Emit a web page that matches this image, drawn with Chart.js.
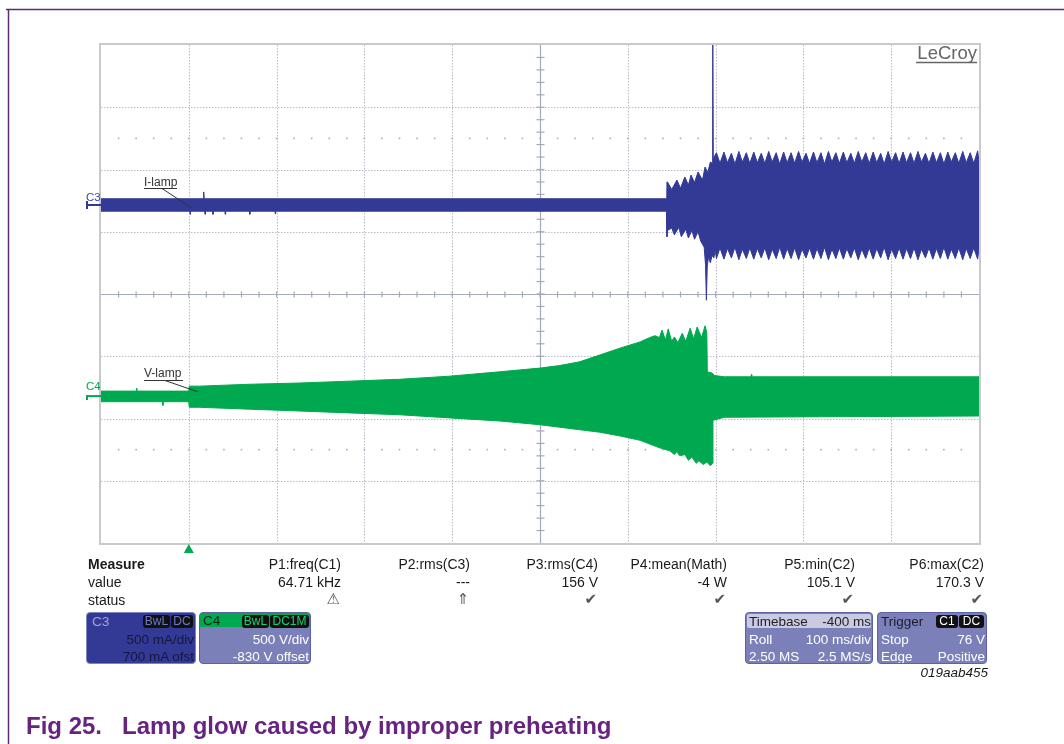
<!DOCTYPE html>
<html>
<head>
<meta charset="utf-8">
<script src="https://cdn.jsdelivr.net/npm/chart.js@4"></script>
<style>
body { margin: 0; background: #fff; width: 1064px; height: 744px; overflow: hidden; position: relative;
       font-family: "Liberation Sans", Arial, sans-serif; color: #1a1a1a; }
#scope { position: absolute; left: 0; top: 0; }
.t { position: absolute; white-space: nowrap; line-height: 1; }
.box { position: absolute; box-sizing: border-box; border-radius: 4px; overflow: hidden; }
.pill { position: absolute; top: 2px; height: 13px; background: #111; border-radius: 3px; font-size: 12px;
        line-height: 13px; text-align: center; }
.sym { font-family: "DejaVu Sans", sans-serif; color: #555; }
</style>
</head>
<body>
<canvas id="scope" width="1064" height="744"></canvas>
<div id="overlay"></div>

<script>
// ---- scope data (time in ms, trigger = 0; amplitude in divisions) ----
const gridX = [0, 100, 200, 300, 400, 500, 600, 700, 800];
const gridY = [-3, -2, -1, 0, 1, 2, 3];
const dotRowsY = [2.5, -2.5];

// C3 I-lamp envelope before the steady ripple
const ilampTopT = [-100, 16.5, 17, 17.5, 544, 544.6, 545.2, 550, 556, 560, 565, 569, 572, 576, 580, 585, 588, 591, 594, 596.3, 596.8, 597.3, 599];
const ilampTopV = [1.53, 1.53, 1.64, 1.53, 1.53, 1.80, 1.80, 1.68, 1.83, 1.70, 1.88, 1.75, 1.91, 1.79, 1.96, 1.83, 2.04, 1.95, 2.12, 2.10, 4.00, 2.15, 2.22];
const ilampBotT = [-100, 1, 1.5, 2, 18, 18.5, 19, 27, 27.5, 28, 41, 41.5, 42, 69, 69.5, 70, 98, 98.5, 99,
                   544, 544.6, 545.2, 550, 553, 558, 561, 566, 569, 573, 576, 580, 583,
                   585, 587, 588.5, 589.5, 590.5, 592, 594, 596, 598, 599.5];
const ilampBotV = [1.33, 1.33, 1.28, 1.33, 1.33, 1.28, 1.33, 1.33, 1.28, 1.33, 1.33, 1.28, 1.33, 1.33, 1.28, 1.33, 1.33, 1.29, 1.33,
                   1.33, 0.92, 1.02, 1.06, 0.95, 1.07, 0.92, 1.04, 0.90, 1.02, 0.88, 1.00, 0.85,
                   0.80, 0.75, 0.47, -0.10, 0.45, 0.60, 0.50, 0.62, 0.58, 0.70];

// C3 steady ripple after the lamp ignites (peak, valley, peak, ...)
const rippleT = [601, 605, 609.5, 613.5, 618, 622, 626.5, 630.5, 635, 639, 643.5, 647.5, 652, 656, 660.5, 664.5,
                 669, 673, 677.5, 681.5, 686, 690, 694.5, 698.5, 703, 707, 711.5, 715.5, 720, 724, 728.5, 732.5,
                 737, 741, 745.5, 749.5, 754, 758, 762.5, 766.5, 771, 775, 779.5, 783.5, 788, 792, 796.5, 800.5,
                 805, 809, 813.5, 817.5, 822, 826, 830.5, 834.5, 839, 843, 847.5, 851.5, 856, 860, 864.5, 868.5,
                 873, 877, 881.5, 885.5, 890, 894, 898.5, 900];
const rippleTop = [2.27, 2.10, 2.28, 2.11, 2.26, 2.09, 2.29, 2.12, 2.27, 2.10, 2.28, 2.11, 2.26, 2.10, 2.29, 2.12,
                   2.27, 2.09, 2.28, 2.11, 2.27, 2.10, 2.29, 2.12, 2.26, 2.10, 2.28, 2.11, 2.27, 2.09, 2.29, 2.12,
                   2.27, 2.10, 2.28, 2.11, 2.26, 2.10, 2.29, 2.12, 2.27, 2.10, 2.28, 2.11, 2.26, 2.09, 2.29, 2.12,
                   2.27, 2.10, 2.28, 2.11, 2.27, 2.10, 2.29, 2.12, 2.26, 2.10, 2.28, 2.11, 2.27, 2.09, 2.28, 2.12,
                   2.27, 2.10, 2.29, 2.11, 2.27, 2.10, 2.30, 2.12];
const rippleBot = [0.57, 0.74, 0.56, 0.73, 0.58, 0.75, 0.55, 0.72, 0.57, 0.74, 0.56, 0.73, 0.58, 0.74, 0.55, 0.72,
                   0.57, 0.75, 0.56, 0.73, 0.57, 0.74, 0.55, 0.72, 0.58, 0.74, 0.56, 0.73, 0.57, 0.75, 0.55, 0.72,
                   0.57, 0.74, 0.56, 0.73, 0.58, 0.74, 0.55, 0.72, 0.57, 0.74, 0.56, 0.73, 0.58, 0.75, 0.55, 0.72,
                   0.57, 0.74, 0.56, 0.73, 0.57, 0.74, 0.55, 0.72, 0.58, 0.74, 0.56, 0.73, 0.57, 0.75, 0.56, 0.72,
                   0.57, 0.74, 0.55, 0.73, 0.57, 0.74, 0.56, 0.73];

// C4 V-lamp envelope
const vlampTopT = [-100, -60, -59.5, -59, 0, 0.5, 12, 69, 126, 183, 240, 297, 354, 400, 422, 445, 468, 491, 514, 525, 531,
                   536, 539, 543, 546, 550, 553, 557, 562, 566, 571, 575, 579, 584, 588, 590, 590.6, 596, 599, 610, 640,
                   641, 642, 900];
const vlampTopV = [-1.56, -1.56, -1.51, -1.56, -1.56, -1.48, -1.48, -1.45, -1.43, -1.40, -1.37, -1.32, -1.25, -1.19, -1.15, -1.09,
                   -0.98, -0.87, -0.77, -0.70, -0.67, -0.70, -0.58, -0.74, -0.56, -0.76, -0.69, -0.78, -0.63, -0.76, -0.55,
                   -0.72, -0.53, -0.70, -0.51, -0.62, -1.25, -1.27, -1.31, -1.33, -1.33, -1.29, -1.33, -1.33];
const vlampBotT = [-100, -30, -29.5, -29, 0, 0.5, 12, 69, 126, 183, 240, 297, 354, 400, 445, 468, 491, 514, 536, 548,
                   553, 556, 559, 565, 569, 573, 578, 581, 586, 590, 594, 596.5, 597, 610, 900];
const vlampBotV = [-1.73, -1.73, -1.79, -1.73, -1.73, -1.82, -1.82, -1.85, -1.88, -1.91, -1.94, -1.99, -2.04, -2.10, -2.18,
                   -2.22, -2.28, -2.35, -2.47, -2.52, -2.58, -2.53, -2.60, -2.58, -2.67, -2.62, -2.72, -2.68, -2.74, -2.70,
                   -2.76, -2.72, -2.03, -1.98, -1.96];

const c3Level = 1.43;
const c4Level = -1.64;

// measure table
const measureNames = ['P1:freq(C1)', 'P2:rms(C3)', 'P3:rms(C4)', 'P4:mean(Math)', 'P5:min(C2)', 'P6:max(C2)'];
const measureValues = ['64.71 kHz', '---', '156 V', '-4 W', '105.1 V', '170.3 V'];
const measureStatus = ['\u26A0', '\u21D1', '\u2714', '\u2714', '\u2714', '\u2714'];

const BLUE = '#333a96';
const GREEN = '#00a94f';

const zip = (ts, vs) => ts.map((t, i) => ({ x: t, y: vs[i] }));

// ---- grid / decorations drawn on the chart scales ----
const scopeGrid = {
    id: 'scopeGrid',
    beforeDatasetsDraw(chart) {
        const { ctx, chartArea: a, scales: { x, y } } = chart;
        const line = (x1, y1, x2, y2) => { ctx.beginPath(); ctx.moveTo(x1, y1); ctx.lineTo(x2, y2); ctx.stroke(); };
        ctx.save();
        ctx.strokeStyle = '#b9bcc8';
        ctx.lineWidth = 1;
        ctx.setLineDash([1.5, 1.5]);
        gridX.forEach(t => {
            if (t === 400) return;
            const px = Math.round(x.getPixelForValue(t)) + 0.5;
            line(px, a.top, px, a.bottom);
        });
        gridY.forEach(v => {
            if (v === 0) return;
            const py = Math.round(y.getPixelForValue(v)) + 0.5;
            line(a.left, py, a.right, py);
        });
        ctx.setLineDash([]);

        // dotted half-division rows
        ctx.fillStyle = '#a9adbb';
        dotRowsY.forEach(v => {
            const py = y.getPixelForValue(v);
            for (let t = -80; t < 900; t += 20) {
                ctx.fillRect(x.getPixelForValue(t) - 0.8, py - 0.8, 1.6, 1.6);
            }
        });

        // centre axes with minor ticks
        ctx.strokeStyle = '#a4a9bb';
        ctx.lineWidth = 1.2;
        const x0 = Math.round(x.getPixelForValue(400)) + 0.5;
        const y0 = Math.round(y.getPixelForValue(0)) + 0.5;
        line(a.left, y0, a.right, y0);
        line(x0, a.top, x0, a.bottom);
        for (let t = -80; t < 900; t += 20) {
            const px = x.getPixelForValue(t);
            line(px, y0 - 3, px, y0 + 3);
        }
        for (let v = -3.8; v < 4; v += 0.2) {
            const py = y.getPixelForValue(v);
            line(x0 - 4, py, x0 + 4, py);
        }
        ctx.restore();
    },
    afterDraw(chart) {
        const { ctx, chartArea: a, scales: { x, y } } = chart;
        const line = (x1, y1, x2, y2) => { ctx.beginPath(); ctx.moveTo(x1, y1); ctx.lineTo(x2, y2); ctx.stroke(); };
        ctx.save();
        // screen border
        ctx.strokeStyle = '#c9c9cd';
        ctx.lineWidth = 2;
        ctx.strokeRect(a.left - 1, a.top - 1, a.right - a.left + 2, a.bottom - a.top + 2);

        // channel ground markers
        ctx.lineWidth = 2;
        ctx.strokeStyle = BLUE;
        let py = y.getPixelForValue(c3Level);
        line(86, py, a.left, py);
        line(87, py - 4, 87, py + 4);
        ctx.strokeStyle = GREEN;
        py = y.getPixelForValue(c4Level);
        line(86, py, a.left, py);
        line(87, py, 87, py + 4);

        // label pointers
        ctx.strokeStyle = '#333';
        ctx.lineWidth = 1;
        line(144, 188.5, 177, 188.5);
        line(162, 188.5, x.getPixelForValue(3.4), y.getPixelForValue(1.38));
        line(144, 380.5, 183, 380.5);
        line(165, 380.5, x.getPixelForValue(10), y.getPixelForValue(-1.57));

        // LeCroy underline
        ctx.strokeStyle = '#666';
        ctx.lineWidth = 1.5;
        line(916, 62.5, 977, 62.5);

        // trigger position marker
        const tx = x.getPixelForValue(0);
        ctx.fillStyle = GREEN;
        ctx.beginPath();
        ctx.moveTo(tx, a.bottom + 1);
        ctx.lineTo(tx + 5, a.bottom + 10);
        ctx.lineTo(tx - 5, a.bottom + 10);
        ctx.closePath();
        ctx.fill();
        ctx.restore();
    }
};

// ---- frame (outer figure border) ----
const frameLines = {
    id: 'frameLines',
    afterDraw(chart) {
        const { ctx } = chart;
        ctx.save();
        ctx.strokeStyle = '#5e2a72';
        ctx.lineWidth = 1.5;
        ctx.beginPath();
        ctx.moveTo(6, 9.5); ctx.lineTo(1064, 9.5);
        ctx.moveTo(8.5, 9); ctx.lineTo(8.5, 744);
        ctx.stroke();
        ctx.restore();
    }
};

const traceStyle = (color) => ({
    borderColor: color,
    backgroundColor: color,
    borderWidth: 1,
    pointRadius: 0,
    tension: 0
});

new Chart(document.getElementById('scope'), {
    type: 'line',
    data: {
        datasets: [
            { label: 'I-lamp top', data: zip(ilampTopT.concat(rippleT), ilampTopV.concat(rippleTop)), fill: false, ...traceStyle(BLUE) },
            { label: 'I-lamp bottom', data: zip(ilampBotT.concat(rippleT), ilampBotV.concat(rippleBot)), fill: '-1', ...traceStyle(BLUE) },
            { label: 'V-lamp top', data: zip(vlampTopT, vlampTopV), fill: false, ...traceStyle(GREEN) },
            { label: 'V-lamp bottom', data: zip(vlampBotT, vlampBotV), fill: '-1', ...traceStyle(GREEN) }
        ]
    },
    options: {
        responsive: false,
        animation: false,
        layout: { padding: { left: 101, top: 45, right: 85, bottom: 201 } },
        plugins: { legend: { display: false }, tooltip: { enabled: false } },
        scales: {
            x: { type: 'linear', min: -100, max: 900, display: false },
            y: { type: 'linear', min: -4, max: 4, display: false }
        }
    },
    plugins: [scopeGrid, frameLines]
});

// ---- text overlays ----
const ov = document.getElementById('overlay');
const text = (s, opts) => {
    const d = document.createElement('div');
    d.className = 't';
    d.textContent = s;
    Object.assign(d.style, opts);
    ov.appendChild(d);
    return d;
};

text('LeCroy', { right: '87px', top: '44px', fontSize: '18.5px', color: '#666' });
text('C3', { left: '86px', top: '192px', fontSize: '11.5px', color: '#3c46b4' });
text('C4', { left: '86px', top: '381px', fontSize: '11.5px', color: GREEN });
text('I-lamp', { left: '144px', top: '176px', fontSize: '12px', color: '#333' });
text('V-lamp', { left: '144px', top: '367px', fontSize: '12px', color: '#333' });

text('Measure', { left: '88px', top: '557px', fontSize: '14px', fontWeight: 'bold' });
text('value', { left: '88px', top: '575px', fontSize: '14px' });
text('status', { left: '88px', top: '593px', fontSize: '14px' });
const colRight = [341, 470, 598, 727, 855, 984];
measureNames.forEach((n, i) => {
    const r = (1064 - colRight[i]) + 'px';
    text(n, { right: r, top: '557px', fontSize: '14px' });
    text(measureValues[i], { right: r, top: '575px', fontSize: '14px' });
    const s = text(measureStatus[i], { right: (1064 - colRight[i] + 1) + 'px', top: '592px', fontSize: '15px' });
    s.classList.add('sym');
});

// info boxes
const box = (left, w, bg, border) => {
    const d = document.createElement('div');
    d.className = 'box';
    Object.assign(d.style, { left: left + 'px', top: '612px', width: w + 'px', height: '52px', background: bg, border: '1px solid ' + border });
    ov.appendChild(d);
    return d;
};
const inner = (parent, s, opts) => {
    const d = document.createElement('div');
    d.className = 't';
    d.textContent = s;
    Object.assign(d.style, { fontSize: '13.5px' }, opts);
    parent.appendChild(d);
    return d;
};
const pill = (parent, s, left, w, color) => {
    const d = document.createElement('div');
    d.className = 'pill';
    d.textContent = s;
    Object.assign(d.style, { left: left + 'px', width: w + 'px', color: color });
    parent.appendChild(d);
};

const c3 = box(86, 110, BLUE, '#7d84c0');
inner(c3, 'C3', { left: '5px', top: '2px', color: '#9ca2d8' });
pill(c3, 'BwL', 56, 27, '#6f78c4');
pill(c3, 'DC', 84, 22, '#6f78c4');
inner(c3, '500 mA/div', { right: '1px', top: '20px', color: '#15173e' });
inner(c3, '700 mA ofst', { right: '1px', top: '37px', color: '#15173e' });

const c4 = box(199, 112, '#7b80b9', '#5c62a4');
const strip = document.createElement('div');
Object.assign(strip.style, { position: 'absolute', left: '0', top: '0', right: '0', height: '14px', background: GREEN });
c4.appendChild(strip);
inner(c4, 'C4', { left: '3px', top: '1px', color: '#0c2414' });
pill(c4, 'BwL', 42, 27, '#18d070');
pill(c4, 'DC1M', 70, 39, '#18d070');
inner(c4, '500 V/div', { right: '1px', top: '20px', color: '#fff' });
inner(c4, '-830 V offset', { right: '1px', top: '37px', color: '#fff' });

const tb = box(745, 128, '#7b80b9', '#5c62a4');
const tstrip = document.createElement('div');
Object.assign(tstrip.style, { position: 'absolute', left: '1px', top: '1px', right: '1px', height: '14px', background: '#c9cbe3', borderRadius: '2px' });
tb.appendChild(tstrip);
inner(tb, 'Timebase', { left: '3px', top: '2px', color: '#222' });
inner(tb, '-400 ms', { right: '1px', top: '2px', color: '#222' });
inner(tb, 'Roll', { left: '3px', top: '20px', color: '#fff' });
inner(tb, '100 ms/div', { right: '1px', top: '20px', color: '#fff' });
inner(tb, '2.50 MS', { left: '3px', top: '37px', color: '#fff' });
inner(tb, '2.5 MS/s', { right: '1px', top: '37px', color: '#fff' });

const tr = box(877, 110, '#7b80b9', '#5c62a4');
inner(tr, 'Trigger', { left: '3px', top: '2px', color: '#1c1c2c' });
pill(tr, 'C1', 58, 22, '#fff');
pill(tr, 'DC', 81, 25, '#fff');
inner(tr, 'Stop', { left: '3px', top: '20px', color: '#fff' });
inner(tr, '76 V', { right: '1px', top: '20px', color: '#fff' });
inner(tr, 'Edge', { left: '3px', top: '37px', color: '#fff' });
inner(tr, 'Positive', { right: '1px', top: '37px', color: '#fff' });

text('019aab455', { right: '76px', top: '666px', fontSize: '13.5px', fontStyle: 'italic' });
text('Fig 25.\u00A0\u00A0\u00A0Lamp glow caused by improper preheating',
     { left: '26px', top: '714px', fontSize: '24px', fontWeight: 'bold', color: '#66237f' });
</script>
</body>
</html>
